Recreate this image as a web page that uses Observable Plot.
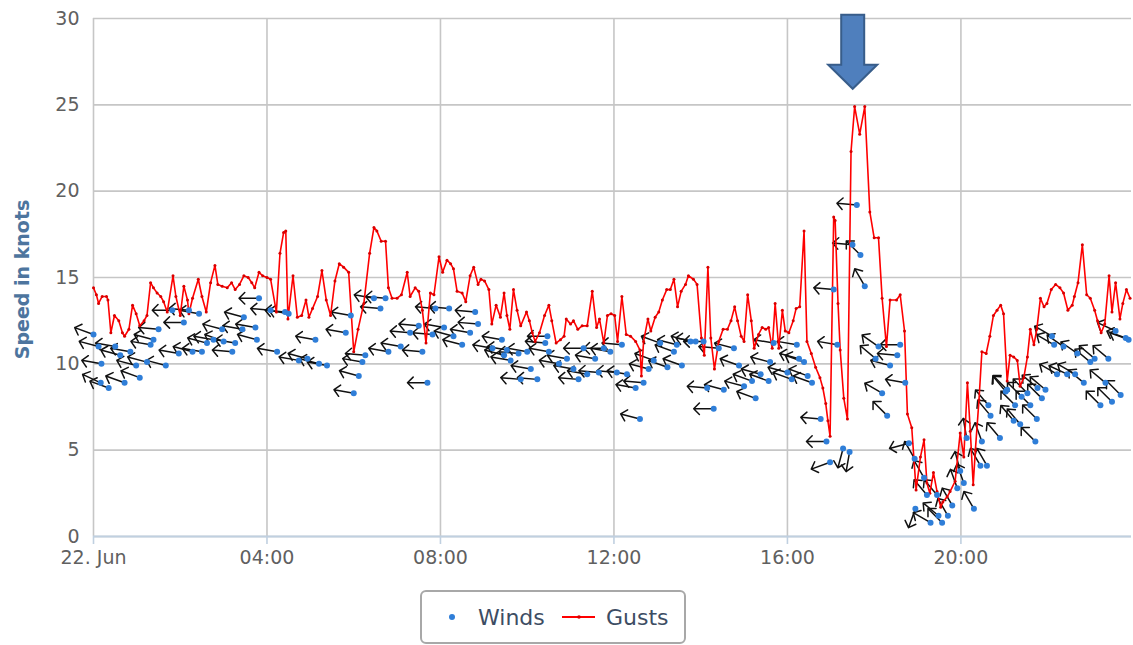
<!DOCTYPE html>
<html><head><meta charset="utf-8">
<script src="https://cdn.jsdelivr.net/npm/d3@7"></script>
<script src="https://cdn.jsdelivr.net/npm/@observablehq/plot@0.6"></script>
<style>
html,body{margin:0;padding:0;background:#fff;}
#wrap{position:relative;width:1133px;height:645px;overflow:hidden;font-family:"DejaVu Sans",sans-serif;}
#chart{position:absolute;left:0;top:0;}
#legend{position:absolute;left:420px;top:590px;width:262px;height:50px;border:2px solid #a8a8a8;border-radius:6px;background:#fff;}
</style></head>
<body><div id="wrap"><div id="chart"></div><div id="legend"></div></div>
<script>
// ---- data ----
const gustTimes = ["00:00","00:04","00:07","00:12","00:18","00:20","00:24","00:29","00:35","00:40","00:43","00:49","00:54","00:59","01:04","01:10","01:14","01:19","01:23","01:28","01:33","01:37","01:42","01:50","01:54","02:00","02:05","02:10","02:12","02:17","02:25","02:30","02:36","02:42","02:48","02:52","02:58","03:05","03:11","03:16","03:22","03:28","03:34","03:39","03:43","03:49","03:54","04:00","04:05","04:13","04:18","04:23","04:26","04:29","04:36","04:42","04:48","04:54","04:58","05:03","05:10","05:16","05:22","05:28","05:34","05:40","05:46","05:53","06:00","06:06","06:14","06:22","06:28","06:32","06:38","06:44","06:48","06:53","07:00","07:06","07:14","07:18","07:25","07:30","07:35","07:40","07:46","07:51","07:58","08:03","08:09","08:14","08:18","08:23","08:30","08:35","08:41","08:46","08:52","08:56","09:01","09:07","09:11","09:17","09:23","09:28","09:32","09:36","09:41","09:46","09:51","09:59","10:03","10:07","10:11","10:17","10:24","10:30","10:34","10:40","10:46","10:51","10:54","11:00","11:04","11:10","11:16","11:23","11:30","11:36","11:40","11:46","11:51","11:56","12:01","12:05","12:11","12:17","12:23","12:30","12:36","12:38","12:41","12:47","12:51","12:57","13:02","13:07","13:13","13:18","13:23","13:28","13:33","13:39","13:43","13:50","13:55","14:01","14:05","14:10","14:14","14:19","14:25","14:31","14:37","14:42","14:47","14:51","14:56","15:00","15:05","15:10","15:14","15:20","15:25","15:30","15:34","15:39","15:43","15:48","15:53","15:57","16:02","16:08","16:12","16:17","16:23","16:27","16:33","16:39","16:45","16:49","16:53","16:56","16:59","17:04","17:06","17:10","17:13","17:18","17:23","17:28","17:33","17:40","17:47","17:54","18:00","18:06","18:11","18:17","18:22","18:31","18:36","18:42","18:46","18:52","18:58","19:04","19:09","19:13","19:17","19:22","19:27","19:32","19:35","19:41","19:45","19:52","19:59","20:04","20:09","20:13","20:17","20:20","20:25","20:29","20:35","20:40","20:45","20:50","20:55","20:59","21:04","21:08","21:13","21:18","21:22","21:27","21:32","21:36","21:41","21:45","21:50","21:55","21:59","22:05","22:11","22:17","22:22","22:28","22:34","22:37","22:42","22:48","22:54","22:59","23:05","23:09","23:14","23:19","23:25","23:29","23:34","23:40","23:44","23:49","23:54"];
const gustSpeeds = [14.4,14.0,13.5,13.9,13.9,13.7,11.8,12.8,12.5,11.8,11.6,12.0,13.4,12.9,12.2,12.5,12.8,14.7,14.4,14.1,13.9,13.6,13.0,15.1,13.9,12.8,14.5,13.7,12.9,13.8,14.9,13.9,13.0,14.7,15.7,14.6,14.5,14.4,14.7,14.3,14.6,15.1,15.0,14.7,14.4,15.3,15.1,15.0,14.9,13.0,16.4,17.6,17.7,12.6,15.1,12.7,12.8,13.7,12.7,13.2,13.9,15.4,13.7,12.8,14.8,15.8,15.6,15.3,10.7,12.0,13.5,16.4,17.9,17.7,17.1,17.1,14.4,13.8,13.8,14.0,15.3,13.9,14.4,14.2,13.1,11.2,14.1,14.0,16.2,15.3,16.0,15.8,15.5,14.2,14.1,13.6,15.1,15.6,14.6,14.9,14.8,14.3,12.3,13.4,12.7,14.1,12.8,12.0,14.3,13.1,12.2,13.0,12.5,11.8,11.3,11.8,12.8,13.4,12.5,11.2,11.4,11.6,12.6,12.3,12.5,12.0,12.2,12.2,14.2,12.1,12.6,11.2,12.8,12.9,12.8,11.3,13.9,11.7,11.6,11.3,10.8,9.3,11.3,12.6,11.9,12.7,13.0,13.7,14.3,14.3,14.9,13.3,14.2,14.6,15.1,14.9,14.6,11.5,10.5,15.6,11.5,9.7,11.3,12.0,12.0,12.5,13.3,12.5,11.6,11.3,14.0,12.5,10.9,11.7,12.1,12.0,12.1,10.9,13.5,10.9,13.1,11.9,11.8,12.5,13.2,13.3,17.7,11.3,10.6,9.8,9.2,8.6,7.7,6.7,5.8,18.5,18.3,13.5,10.8,8.0,6.8,22.3,24.9,23.3,24.9,18.8,17.3,17.3,13.8,11.0,13.7,13.7,14.0,11.9,7.1,6.3,2.7,4.6,5.6,3.1,2.5,3.7,2.6,1.7,2.0,2.3,2.6,3.2,6.0,4.6,8.9,6.1,3.0,5.0,7.9,10.7,10.6,11.6,12.8,13.1,13.4,12.9,9.0,10.5,10.4,10.2,8.7,9.2,10.4,12.0,11.1,12.0,13.8,13.3,13.5,14.3,14.6,14.4,14.1,13.1,13.4,13.9,14.7,16.9,14.0,13.8,13.1,12.5,11.8,12.3,15.1,13.0,14.7,12.6,13.5,14.3,13.8];

const windTimes = ["00:00","00:07","00:10","00:11","00:21","00:30","00:37","00:43","00:51","00:59","01:04","01:14","01:19","01:23","01:30","01:40","01:49","01:58","02:05","02:12","02:17","02:26","02:30","02:37","02:46","02:58","03:00","03:12","03:16","03:26","03:28","03:44","03:46","03:49","04:05","04:14","04:25","04:30","04:44","04:56","05:07","05:12","05:23","05:49","05:56","06:00","06:07","06:12","06:16","06:28","06:37","06:44","06:48","07:05","07:18","07:30","07:35","07:42","07:49","07:53","08:05","08:12","08:18","08:30","08:41","08:48","08:52","09:12","09:25","09:28","09:32","09:37","09:48","09:51","10:00","10:05","10:14","10:25","10:28","10:30","10:44","10:55","11:04","11:11","11:18","11:23","11:34","11:39","11:46","11:55","12:04","12:11","12:18","12:30","12:36","12:41","12:48","12:55","13:04","13:14","13:23","13:27","13:34","13:46","13:53","14:04","14:09","14:18","14:25","14:32","14:46","14:53","15:00","15:11","15:16","15:23","15:34","15:36","15:41","16:00","16:06","16:13","16:16","16:23","16:28","16:34","16:46","16:54","16:59","17:04","17:09","17:17","17:26","17:30","17:36","17:41","17:47","18:02","18:06","18:11","18:18","18:22","18:32","18:36","18:43","18:48","18:56","18:57","19:09","19:13","19:18","19:27","19:29","19:34","19:42","19:48","19:55","19:59","20:04","20:08","20:18","20:27","20:29","20:36","20:38","20:41","20:54","21:02","21:04","21:13","21:15","21:22","21:24","21:32","21:36","21:43","21:45","21:46","21:52","21:57","22:06","22:09","22:13","22:22","22:27","22:38","22:41","22:50","22:59","23:05","23:13","23:20","23:24","23:29","23:34","23:41","23:48","23:52"];
const windSpeeds = [11.7,11.0,8.9,10.0,8.6,11.0,10.5,8.9,10.7,9.9,9.2,10.1,11.1,11.4,12.0,9.9,13.1,10.6,12.4,13.1,10.7,12.9,10.7,11.2,11.4,12.0,11.3,10.7,11.2,12.0,12.7,12.1,11.4,13.8,13.1,10.7,13.0,12.9,10.2,10.3,11.4,10.0,9.9,11.8,12.8,8.3,9.3,10.1,10.5,13.8,13.2,13.8,10.7,11.0,11.8,12.2,10.7,8.9,11.7,13.2,12.1,13.2,11.6,11.1,11.8,13.0,12.3,10.9,11.4,10.5,10.8,10.2,10.6,9.1,10.7,9.7,9.1,11.2,11.6,10.7,10.0,10.3,9.7,9.1,10.9,9.4,10.3,9.5,10.9,10.7,9.5,11.1,9.4,8.6,6.8,8.9,9.7,10.2,11.2,9.8,10.7,11.1,9.9,11.3,11.3,11.3,8.6,7.4,10.9,8.5,10.9,9.9,8.7,9.0,8.0,9.4,9.0,10.1,11.2,9.5,9.1,11.1,10.3,10.1,9.3,8.9,6.8,5.5,4.3,14.3,11.1,5.1,4.9,16.9,19.2,16.3,14.5,10.3,11.0,8.3,7.0,9.9,10.5,11.1,8.9,5.4,4.5,1.6,3.4,2.4,0.8,2.4,1.2,0.8,1.2,1.8,2.8,3.8,3.1,5.7,1.6,4.1,5.5,4.1,7.6,7.0,5.7,8.4,8.5,6.7,7.6,6.5,8.1,8.3,7.6,5.5,6.8,8.6,8.0,8.5,11.6,11.1,9.4,11.0,9.4,9.4,10.6,8.9,10.1,10.3,7.6,8.9,10.3,7.8,11.9,8.2,11.5,11.4];
// direction the wind comes from, degrees clockwise from north
const windDirs = [110,105,115,100,110,100,105,110,100,105,110,105,100,105,95,105,90,100,90,95,105,100,100,105,100,105,110,95,100,100,105,100,105,90,95,100,95,100,100,105,100,105,100,100,100,100,105,100,95,100,95,95,100,100,95,95,95,90,95,95,100,95,105,105,100,95,95,100,100,105,100,100,95,95,100,100,95,95,90,100,100,100,100,95,90,100,100,95,90,100,95,95,100,100,105,95,105,110,110,110,110,105,110,105,100,90,95,90,95,105,105,110,105,110,110,105,110,105,100,105,110,100,105,110,110,110,95,90,70,95,100,15,10,95,95,135,150,130,125,120,135,105,95,90,100,75,150,20,150,140,120,140,130,135,150,150,160,165,160,170,150,150,160,150,140,140,140,140,135,140,135,140,135,135,135,135,135,130,135,130,120,120,120,125,115,120,125,130,130,130,135,130,130,135,115,135,110,110];

const xTickTimes = ["00:00","04:00","08:00","12:00","16:00","20:00"];
const xTickLabels = ["22. Jun","04:00","08:00","12:00","16:00","20:00"];
const yTicks = [0,5,10,15,20,25,30];
const xDomain = ["00:00","23:56"];
const annotationTime = "17:31";
const annotationValue = 25.9;

// ---- helpers ----
const T = s => { const [h, m] = s.split(":").map(Number); return new Date(Date.UTC(2013, 5, 22, h, m)); };
const gusts = gustTimes.map((t, i) => ({t: T(t), v: gustSpeeds[i]}));
const winds = windTimes.map((t, i) => ({t: T(t), v: windSpeeds[i], dir: windDirs[i]}));
const tickDates = xTickTimes.map(T);
const labelOf = d => xTickLabels[tickDates.findIndex(e => +e === +d)];

const chart = Plot.plot({
  width: 1133, height: 575,
  marginLeft: 93, marginRight: 2, marginTop: 18, marginBottom: 39,
  style: {fontFamily: "'DejaVu Sans', sans-serif", fontSize: "19px", color: "#606060", background: "transparent", overflow: "visible"},
  x: {type: "utc", domain: xDomain.map(T)},
  y: {domain: [0, 30]},
  marks: [
    Plot.gridY({ticks: yTicks, stroke: "#c6c6c6", strokeOpacity: 1, strokeWidth: 1.6}),
    Plot.gridX({ticks: tickDates, stroke: "#c6c6c6", strokeOpacity: 1, strokeWidth: 1.6}),
    Plot.ruleY([0], {stroke: "#c0d0e0", strokeWidth: 2}),
    Plot.axisX({ticks: tickDates, tickFormat: labelOf, tickSize: 8, tickPadding: 6, stroke: "#c0d0e0", strokeWidth: 1.6, fill: "#606060", fontSize: 19, label: null}),
    Plot.axisY({ticks: yTicks, tickSize: 0, tickPadding: 14, fill: "#606060", fontSize: 19, label: null}),
    Plot.text(["Speed in knots"], {frameAnchor: "left", textAnchor: "middle", dx: -71, dy: 2, rotate: -90, fill: "#4d759e", fontWeight: "bold", fontSize: 19}),
    Plot.vector(winds, {x: "t", y: "v", rotate: d => d.dir + 180, length: 20, anchor: "start", stroke: "#111", strokeWidth: 1.5, r: 5}),
    Plot.line(gusts, {x: "t", y: "v", stroke: "#ff0000", strokeWidth: 1.6}),
    Plot.dot(gusts, {x: "t", y: "v", r: 1.5, fill: "#d80000"}),
    Plot.dot(winds, {x: "t", y: "v", r: 3, fill: "#2f7ed8"}),
    (index, scales) => {
      const cx = scales.x(T(annotationTime)), ty = scales.y(annotationValue);
      return d3.create("svg:path")
        .attr("d", `M${cx-11.5},${ty-74}H${cx+11.5}V${ty-24}H${cx+24.5}L${cx},${ty}L${cx-24.5},${ty-24}H${cx-11.5}Z`)
        .attr("fill", "#4f7fbd").attr("stroke", "#385d8a").attr("stroke-width", 2).attr("stroke-linejoin", "miter")
        .node();
    }
  ]
});
document.getElementById("chart").append(chart);

// legend
const lg = d3.select("#legend").append("svg").attr("width", 262).attr("height", 50)
  .style("font-family", "'DejaVu Sans', sans-serif");
lg.append("circle").attr("cx", 30).attr("cy", 25).attr("r", 3).attr("fill", "#2f7ed8");
lg.append("text").attr("x", 56).attr("y", 33).attr("font-size", 22).attr("fill", "#3d4d63").text("Winds");
lg.append("line").attr("x1", 140).attr("x2", 173).attr("y1", 25).attr("y2", 25).attr("stroke", "#ff0000").attr("stroke-width", 2);
lg.append("circle").attr("cx", 157).attr("cy", 25).attr("r", 1.8).attr("fill", "#d80000");
lg.append("text").attr("x", 184).attr("y", 33).attr("font-size", 22).attr("fill", "#3d4d63").text("Gusts");
</script></body></html>
